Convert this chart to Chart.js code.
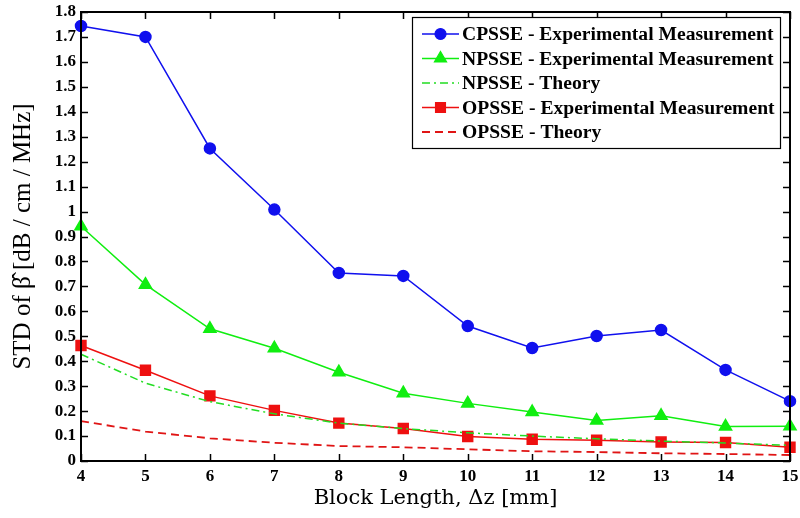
<!DOCTYPE html>
<html>
<head>
<meta charset="utf-8">
<script src="https://cdn.jsdelivr.net/npm/chart.js@4"></script>
<style>
html,body{margin:0;padding:0;background:#fff;}
#wrap{width:800px;height:518px;position:relative;}
</style>
</head>
<body>
<div id="wrap"><canvas id="c" width="800" height="518"></canvas></div>
<script>
const blockLengths = [4,5,6,7,8,9,10,11,12,13,14,15];
const cpsseExp = [1.744,1.700,1.253,1.008,0.754,0.742,0.541,0.453,0.501,0.525,0.365,0.240];
const npsseExp = [0.941,0.707,0.530,0.452,0.356,0.272,0.231,0.196,0.162,0.181,0.138,0.139];
const npsseTheory = [0.428,0.312,0.238,0.189,0.152,0.130,0.113,0.100,0.089,0.080,0.072,0.063];
const opsseExp = [0.463,0.364,0.261,0.203,0.152,0.130,0.098,0.087,0.083,0.076,0.074,0.055];
const opsseTheory = [0.160,0.118,0.091,0.073,0.060,0.055,0.047,0.039,0.036,0.031,0.028,0.024];
const yTicks = [0,0.1,0.2,0.3,0.4,0.5,0.6,0.7,0.8,0.9,1,1.1,1.2,1.3,1.4,1.5,1.6,1.7,1.8];
const seriesLabels = ['CPSSE - Experimental Measurement','NPSSE - Experimental Measurement','NPSSE - Theory','OPSSE - Experimental Measurement','OPSSE - Theory'];

const pts = arr => arr.map((v,i)=>({x:blockLengths[i], y:v}));
const SERIF = '"Liberation Serif","Times New Roman",serif';
const TITLEFONT = '"DejaVu Serif",serif';

const frameTicks = {
  id:'frameTicks',
  afterDatasetsDraw(chart){
    const {ctx, chartArea:a, scales:{x,y}} = chart;
    ctx.save();
    ctx.strokeStyle='#000';
    ctx.lineWidth=1.5;
    const tl=7;
    ctx.beginPath();
    blockLengths.forEach(v=>{
      const px=Math.round(x.getPixelForValue(v))+0.5;
      ctx.moveTo(px,a.bottom); ctx.lineTo(px,a.bottom-tl);
      ctx.moveTo(px,a.top); ctx.lineTo(px,a.top+tl);
    });
    yTicks.forEach(v=>{
      const py=Math.round(y.getPixelForValue(v))+0.5;
      ctx.moveTo(a.left,py); ctx.lineTo(a.left+tl,py);
      ctx.moveTo(a.right,py); ctx.lineTo(a.right-tl,py);
    });
    ctx.stroke();
    ctx.lineWidth=2;
    ctx.strokeRect(a.left,a.top,a.right-a.left,a.bottom-a.top);
    ctx.restore();
  },
  afterDraw(chart){
    const ctx=chart.ctx;
    const a=chart.chartArea;
    const bx=a.right-378, by=a.top+5, bw=368, bh=131;
    ctx.save();
    ctx.fillStyle='#fff';
    ctx.fillRect(bx,by,bw,bh);
    ctx.strokeStyle='#000';
    ctx.lineWidth=1.2;
    ctx.strokeRect(bx+0.5,by+0.5,bw,bh);
    chart.data.datasets.forEach((ds,i)=>{
      const cy=by+17+i*24.5;
      const x0=bx+10, x1=bx+47;
      ctx.save();
      ctx.strokeStyle=ds.borderColor;
      ctx.lineWidth=ds.borderWidth;
      ctx.setLineDash(ds.borderDash||[]);
      ctx.beginPath(); ctx.moveTo(x0,cy); ctx.lineTo(x1,cy); ctx.stroke();
      ctx.restore();
      if(ds.pointRadius>0){
        ctx.fillStyle=ds.pointBackgroundColor;
        ctx.strokeStyle=ds.pointBorderColor;
        Chart.helpers.drawPoint(ctx,{pointStyle:ds.pointStyle,radius:ds.pointRadius,borderWidth:1,rotation:0},(x0+x1)/2,cy);
      }
      ctx.fillStyle='#000';
      ctx.font='bold 19.6px '+SERIF;
      ctx.textBaseline='middle';
      ctx.textAlign='left';
      ctx.fillText(ds.label,x1+3,cy+1);
    });
    ctx.restore();
  }
};

new Chart(document.getElementById('c'),{
  type:'line',
  data:{datasets:[
    {label:seriesLabels[0],data:pts(cpsseExp),borderColor:'#1010ee',borderWidth:1.5,pointStyle:'circle',pointRadius:5.5,pointBackgroundColor:'#1010ee',pointBorderColor:'#1010ee',clip:false},
    {label:seriesLabels[1],data:pts(npsseExp),borderColor:'#10ee10',borderWidth:1.5,pointStyle:'triangle',pointRadius:7,pointBackgroundColor:'#10ee10',pointBorderColor:'#10ee10',clip:false},
    {label:seriesLabels[2],data:pts(npsseTheory),borderColor:'#22dd22',borderWidth:1.5,borderDash:[8,4,2,4],pointRadius:0,clip:false},
    {label:seriesLabels[3],data:pts(opsseExp),borderColor:'#ee1010',borderWidth:1.5,pointStyle:'rect',pointRadius:7,pointBackgroundColor:'#ee1010',pointBorderColor:'#ee1010',clip:false},
    {label:seriesLabels[4],data:pts(opsseTheory),borderColor:'#e01515',borderWidth:1.8,borderDash:[8,5],pointRadius:0,clip:false}
  ]},
  options:{
    responsive:false,
    animation:false,
    layout:{padding:{top:12,right:10,left:0,bottom:0}},
    plugins:{legend:{display:false},tooltip:{enabled:false}},
    elements:{line:{tension:0}},
    scales:{
      x:{type:'linear',min:4,max:15,
        afterFit(s){s.height=57;s.paddingRight=0;s.paddingLeft=0;},
        grid:{display:false,drawTicks:false},
        border:{display:false},
        ticks:{stepSize:1,color:'#000',font:{family:SERIF,size:17,weight:'bold'},padding:5,maxRotation:0},
        title:{display:true,text:'Block Length, Δz [mm]',color:'#000',font:{family:TITLEFONT,size:21},padding:{top:0,bottom:7}}
      },
      y:{type:'linear',min:0,max:1.8,
        afterFit(s){s.width=81;s.paddingTop=0;s.paddingBottom=0;},
        grid:{display:false,drawTicks:false},
        border:{display:false},
        afterBuildTicks(s){s.ticks=yTicks.map(v=>({value:v}));},
        ticks:{color:'#000',font:{family:SERIF,size:17,weight:'bold'},padding:5,callback:v=>String(parseFloat(Number(v).toFixed(1)))},
        title:{display:true,text:'STD of β̂ [dB / cm / MHz]',color:'#000',font:{family:SERIF,size:25},padding:{top:8,bottom:0}}
      }
    }
  },
  plugins:[frameTicks]
});
</script>
</body>
</html>
